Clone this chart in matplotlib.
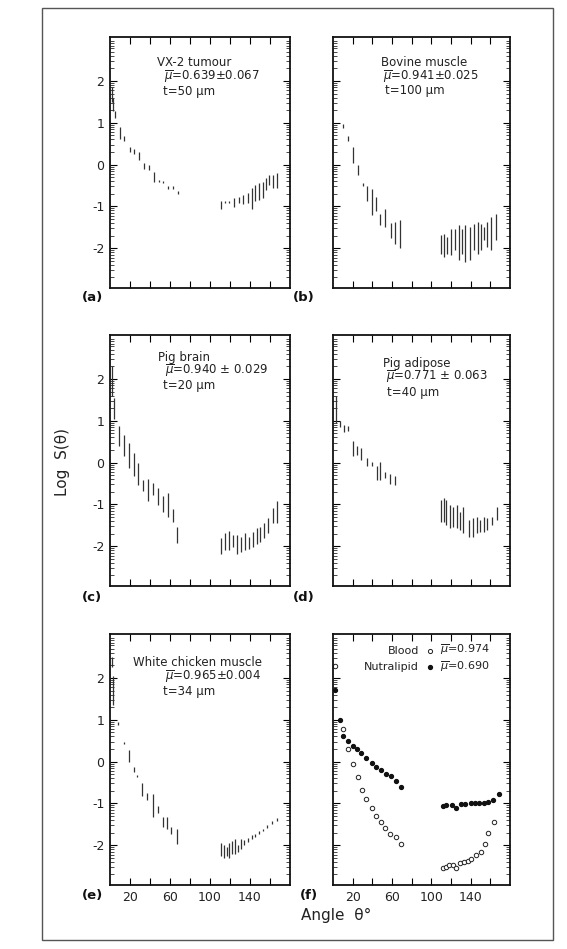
import matplotlib
matplotlib.use('Agg')
import matplotlib.pyplot as plt
import numpy as np
from matplotlib.patches import Rectangle
from matplotlib.lines import Line2D

plt.rcParams['font.family'] = ['DejaVu Sans']
plt.rcParams['axes.unicode_minus'] = False

# ---- data: scattering angle (deg) and log S range for each vertical bar ----
# (a) VX-2 tumour
a_ang = [2, 3, 5, 10, 14, 20, 24, 29, 34, 39, 44, 49, 53, 58, 63, 68,
         111, 115, 119, 124, 129, 133, 138, 142, 145, 149, 153, 156, 159, 163, 167]
a_lo = [1.50, 1.28, 1.12, 0.61, 0.57, 0.29, 0.25, 0.10, -0.10, -0.14, -0.42, -0.42, -0.45, -0.58, -0.59, -0.70,
        -1.05, -0.93, -0.92, -1.02, -0.92, -0.94, -0.92, -1.05, -0.87, -0.85, -0.80, -0.60, -0.48, -0.55, -0.55]
a_hi = [1.85, 1.60, 1.29, 0.89, 0.69, 0.43, 0.37, 0.29, 0.05, -0.02, -0.18, -0.36, -0.40, -0.50, -0.52, -0.62,
        -0.88, -0.86, -0.86, -0.81, -0.78, -0.72, -0.69, -0.55, -0.48, -0.45, -0.42, -0.33, -0.24, -0.25, -0.21]

# (b) Bovine muscle
b_ang = [10.5, 15.5, 20.5, 25.5, 30, 34.5, 39.5, 44, 48, 53, 59, 63, 68,
         110, 113, 116, 120, 124, 128, 131, 134, 139, 143, 147, 150, 154, 157, 161, 166]
b_lo = [0.88, 0.57, 0.05, -0.26, -0.50, -0.86, -1.21, -1.10, -1.45, -1.49, -1.76, -1.89, -2.00,
        -2.13, -2.21, -2.13, -2.17, -2.05, -2.29, -2.13, -2.33, -2.29, -2.05, -2.13, -2.05, -1.81, -1.97, -2.05, -1.81]
b_hi = [0.98, 0.69, 0.41, 0.00, -0.43, -0.50, -0.58, -0.78, -1.17, -1.06, -1.40, -1.37, -1.33,
        -1.69, -1.65, -1.73, -1.53, -1.53, -1.45, -1.55, -1.45, -1.50, -1.43, -1.37, -1.43, -1.50, -1.37, -1.25, -1.17]

# (c) Pig brain
c_ang = [2, 4, 9.3, 14.3, 19, 24, 28, 33, 38, 43, 48, 53, 58, 63, 67,
         110.7, 115, 119.3, 123.3, 126.7, 130.7, 135, 139, 142.7, 146.7, 150, 154, 158, 162.7, 167.3]
c_lo = [1.60, 1.05, 0.39, 0.15, -0.13, -0.33, -0.53, -0.69, -0.93, -0.77, -1.01, -1.17, -1.29, -1.41, -1.92,
        -2.18, -2.10, -2.10, -2.02, -2.18, -2.14, -2.10, -2.06, -2.02, -1.94, -1.90, -1.81, -1.69, -1.45, -1.44]
c_hi = [2.30, 1.55, 0.88, 0.67, 0.47, 0.23, -0.01, -0.41, -0.39, -0.49, -0.61, -0.81, -0.73, -1.12, -1.53,
        -1.81, -1.69, -1.63, -1.73, -1.73, -1.77, -1.69, -1.77, -1.65, -1.57, -1.53, -1.45, -1.33, -1.09, -0.93]

# (d) Pig adipose
d_ang = [3, 6.7, 11, 15.3, 20.3, 24.3, 28.7, 34.3, 39.3, 44.3, 48.3, 53.3, 58.3, 63.3,
         110, 112.7, 115.3, 119.3, 122, 126, 129.3, 132.7, 138.7, 142, 146, 149.3, 153.3, 157, 162, 166.7]
d_lo = [0.95, 0.84, 0.72, 0.75, 0.15, 0.19, 0.07, -0.09, -0.07, -0.41, -0.41, -0.37, -0.51, -0.53,
        -1.41, -1.41, -1.49, -1.57, -1.53, -1.57, -1.61, -1.69, -1.78, -1.78, -1.69, -1.65, -1.65, -1.61, -1.49, -1.37]
d_hi = [1.60, 1.00, 0.89, 0.87, 0.51, 0.39, 0.35, 0.11, 0.01, -0.09, 0.01, -0.23, -0.27, -0.33,
        -0.89, -0.85, -0.89, -1.01, -1.05, -1.01, -1.17, -1.05, -1.37, -1.33, -1.29, -1.37, -1.29, -1.33, -1.29, -1.05]

# (e) White chicken muscle
e_ang = [2, 3, 8, 14, 18.6, 24, 27.4, 32, 37, 43, 47.5, 53, 56.5, 61, 67,
         111, 113.5, 117, 119, 122, 125, 127.6, 131, 134, 138, 142, 145, 148.5, 152.5, 157, 162, 167]
e_lo = [2.25, 1.35, 0.87, 0.43, -0.01, -0.25, -0.37, -0.83, -0.91, -1.32, -1.24, -1.56, -1.60, -1.73, -1.97,
        -2.25, -2.30, -2.25, -2.30, -2.20, -2.20, -2.15, -2.10, -2.00, -1.92, -1.84, -1.80, -1.74, -1.67, -1.58, -1.49, -1.42]
e_hi = [2.50, 2.05, 0.94, 0.48, 0.28, -0.13, -0.31, -0.52, -0.74, -0.78, -1.07, -1.32, -1.32, -1.56, -1.60,
        -1.95, -2.00, -2.05, -1.95, -1.90, -1.85, -2.00, -1.85, -1.88, -1.82, -1.76, -1.72, -1.66, -1.60, -1.51, -1.42, -1.35]

# (f) Blood and Nutralipid, single points
nutra_ang = [2, 6.8, 10.4, 15.5, 20.5, 24.5, 28.9, 34, 39.2, 43.9, 48.4, 53.5, 58.6, 63.7, 68.8,
             111.8, 115, 121, 125, 130, 134.5, 140, 144.5, 148.5, 153.6, 158, 163, 169]
nutra_val = [1.72, 1.00, 0.60, 0.49, 0.37, 0.30, 0.20, 0.08, -0.04, -0.14, -0.20, -0.30, -0.34, -0.47, -0.61,
             -1.07, -1.03, -1.03, -1.11, -1.01, -1.01, -0.99, -1.00, -1.00, -0.98, -0.96, -0.91, -0.77]
blood_ang = [2, 10, 15.5, 20.5, 25.3, 29, 34, 39.2, 43.9, 48.4, 52.8, 58, 63.7, 68.8,
             111.8, 115, 118.3, 121.7, 125, 129.4, 133.5, 137.6, 140, 145, 150.3, 154.7, 158, 163.9]
blood_val = [2.28, 0.79, 0.30, -0.06, -0.36, -0.67, -0.89, -1.11, -1.29, -1.44, -1.58, -1.74, -1.80, -1.98,
             -2.55, -2.53, -2.48, -2.47, -2.55, -2.43, -2.39, -2.37, -2.32, -2.24, -2.15, -1.96, -1.70, -1.44]

y_ticks = [-2, -1, 0, 1, 2]
y_ticklabels = ['-2', '-1', '0', '1', '2']
x_ticks = [20, 40, 60, 80, 100, 120, 140, 160]
x_ticklabels = ['20', '', '60', '', '100', '', '140', '']

W, H = 567, 949
INK = '#222222'


def fx(x):
    return x / W


def fy(y):
    return 1 - y / H


def make_axes(left, top, width, height, ylab, xlab):
    ax = fig.add_axes([fx(left), fy(top + height), width / W, height / H])
    ax.set_xlim(0, 180)
    ax.set_ylim(-2.95, 3.05)
    ax.set_xticks(x_ticks)
    ax.set_yticks(y_ticks)
    minor = [n + np.log10(k) for n in range(-3, 3) for k in range(2, 10)]
    ax.set_yticks(minor, minor=True)
    ax.tick_params(which='major', direction='in', top=True, right=True, length=5, width=0.8,
                   labelsize=9, labelcolor=INK, pad=4)
    ax.tick_params(axis='y', which='minor', direction='in', left=True, right=True, length=3, width=0.5)
    ax.set_yticklabels(y_ticklabels if ylab else [])
    ax.set_xticklabels(x_ticklabels if xlab else [])
    for s in ax.spines.values():
        s.set_linewidth(1.3)
        s.set_color('#111111')
    return ax


fig = plt.figure(figsize=(W / 100, H / 100), dpi=100)

ax_a = make_axes(110, 37, 180, 251, True, False)
ax_b = make_axes(333, 37, 177, 251, False, False)
ax_c = make_axes(110, 335, 180, 251, True, False)
ax_d = make_axes(333, 335, 177, 251, False, False)
ax_e = make_axes(110, 634, 180, 251, True, True)
ax_f = make_axes(333, 634, 177, 251, False, True)

bar_kw = dict(color='#333333', lw=0.9)
ax_a.vlines(a_ang, a_lo, a_hi, **bar_kw)
ax_b.vlines(b_ang, b_lo, b_hi, **bar_kw)
ax_c.vlines(c_ang, c_lo, c_hi, **bar_kw)
ax_d.vlines(d_ang, d_lo, d_hi, **bar_kw)
ax_e.vlines(e_ang, e_lo, e_hi, **bar_kw)

ax_f.plot(blood_ang, blood_val, 'o', ms=3.2, mfc='white', mec='#222222', mew=0.7, ls='none')
ax_f.plot(nutra_ang, nutra_val, 'o', ms=2.8, mfc='#111111', mec='#111111', ls='none')

# sample annotations
fs = 8.5
mu = r'$\overline{\mu}$'
notes = [
    (157, 63, 'VX-2 tumour'), (164, 77, mu + '=0.639±0.067'), (163, 92, 't=50 μm'),
    (381, 63, 'Bovine muscle'), (383, 77, mu + '=0.941±0.025'), (385, 91, 't=100 μm'),
    (158, 357, 'Pig brain'), (165, 371, mu + '=0.940 ± 0.029'), (163, 386, 't=20 μm'),
    (383, 363, 'Pig adipose'), (386, 377, mu + '=0.771 ± 0.063'), (387, 392, 't=40 μm'),
    (133, 662, 'White chicken muscle'), (165, 677, mu + '=0.965±0.004'), (163, 692, 't=34 μm'),
]
for x, y, s in notes:
    fig.text(fx(x), fy(y), s, fontsize=fs, color=INK, ha='left', va='center')

# legend of panel (f)
lfs = 8
fig.text(fx(419), fy(651), 'Blood', fontsize=lfs, color=INK, ha='right', va='center')
fig.text(fx(419), fy(667), 'Nutralipid', fontsize=lfs, color=INK, ha='right', va='center')
fig.add_artist(Line2D([fx(430)], [fy(651)], transform=fig.transFigure, marker='o', ms=3,
                      mfc='white', mec='#222222', mew=0.7, ls='none'))
fig.add_artist(Line2D([fx(430)], [fy(667)], transform=fig.transFigure, marker='o', ms=2.8,
                      mfc='#111111', mec='#111111', ls='none'))
fig.text(fx(440), fy(650), mu + '=0.974', fontsize=lfs, color=INK, ha='left', va='center')
fig.text(fx(440), fy(667), mu + '=0.690', fontsize=lfs, color=INK, ha='left', va='center')

# panel letters
for x, y, s in [(82, 297, '(a)'), (293, 297, '(b)'), (82, 597, '(c)'),
                (293, 597, '(d)'), (82, 895, '(e)'), (300, 895, '(f)')]:
    fig.text(fx(x), fy(y), s, fontsize=9.5, fontweight='bold', color='#111111', ha='left', va='center')

fig.text(fx(62), fy(462), 'Log  S(θ)', fontsize=11, color=INK, rotation=90, ha='center', va='center')
fig.text(fx(336), fy(915), 'Angle  θ°', fontsize=11, color=INK, ha='center', va='center')

# outer frame
fig.add_artist(Rectangle((fx(42), fy(940)), (553 - 42) / W, (940 - 8) / H, transform=fig.transFigure,
                         fill=False, lw=1.0, ec='#555555'))

fig.savefig('out.png', dpi=100)
